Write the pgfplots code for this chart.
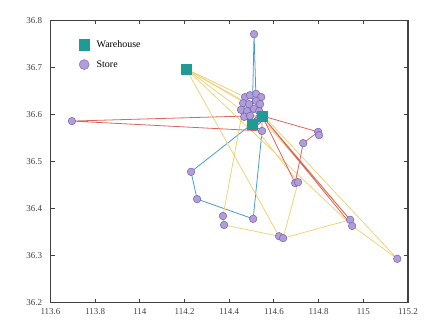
\documentclass[border=0pt]{standalone}
\usepackage{fontspec}
\setmainfont{Liberation Serif}
\usepackage{pgfplots}
\pgfplotsset{compat=1.18}

\definecolor{whcol}{HTML}{1E9C94}
\definecolor{stfill}{HTML}{B39DD6}
\definecolor{stedge}{HTML}{6E62B8}
\definecolor{rblue}{HTML}{4A9CC8}
\definecolor{ryel}{HTML}{F0D27A}
\definecolor{rred}{HTML}{D9665C}

\begin{document}
\begin{tikzpicture}
\path[use as bounding box] (-50.5bp,-25.5bp) rectangle (390.5bp,302.5bp);
\begin{axis}[
    at={(0,0)}, anchor=south west,
    width=357.5bp, height=282bp,
    scale only axis,
    xmin=113.6, xmax=115.2,
    ymin=36.2, ymax=36.8,
    xtick={113.6,113.8,...,115.2},
    ytick={36.2,36.3,...,36.8},
    xticklabel style={/pgf/number format/fixed, /pgf/number format/precision=1, yshift=-3pt},
    yticklabel style={/pgf/number format/fixed, /pgf/number format/precision=1, xshift=-5pt},
    /pgf/number format/assume math mode=true,
    ticklabel style={font=\fontsize{9}{10}\selectfont, text=black!75},
    tick align=inside, tick pos=both,
    major tick length=4bp,
    axis line style={black!75, line width=1.2pt},
    tick style={black!75, line width=0.9pt},
    legend style={draw=none, fill=none, at={(0.07,0.945)}, anchor=north west,
        font=\fontsize{10}{12}\selectfont, row sep=8pt,
        nodes={inner xsep=7pt}},
    legend cell align=left,
]
\addlegendimage{only marks, mark=square*, mark size=5.5pt, mark options={fill=whcol, draw=whcol}}
\addlegendentry{Warehouse}
\addlegendimage{only marks, mark=*, mark size=5pt, mark options={fill=stfill, draw=stedge}}
\addlegendentry{Store}

% blue routes
\addplot[rblue, line width=0.8pt, forget plot] coordinates {
 (114.502,36.580) (114.511,36.771) (114.520,36.629) (114.534,36.607) (114.502,36.580)};
\addplot[rblue, line width=0.8pt, forget plot] coordinates {
 (114.502,36.580) (114.229,36.478) (114.256,36.420) (114.507,36.378) (114.547,36.565) (114.502,36.580)};
\addplot[rblue, line width=0.8pt, forget plot] coordinates {
 (114.502,36.580) (114.467,36.595) (114.453,36.610) (114.462,36.624) (114.502,36.580)};

% yellow routes
\addplot[ryel, line width=0.8pt, forget plot] coordinates {
 (114.207,36.697) (114.471,36.637) (114.372,36.384) (114.377,36.365) (114.623,36.341) (114.207,36.697)};
\addplot[ryel, line width=0.8pt, forget plot] coordinates {
 (114.207,36.697) (114.950,36.363) (115.152,36.293) (114.534,36.607) (114.207,36.697)};
\addplot[ryel, line width=0.8pt, forget plot] coordinates {
 (114.207,36.697) (114.453,36.610) (114.708,36.456) (114.641,36.337) (114.941,36.376) (114.489,36.622) (114.207,36.697)};

% red routes
\addplot[rred, line width=0.8pt, forget plot] coordinates {
 (114.547,36.597) (114.493,36.597) (113.696,36.586) (114.547,36.565) (114.547,36.597)};
\addplot[rred, line width=0.8pt, forget plot] coordinates {
 (114.547,36.597) (114.798,36.563) (114.731,36.539) (114.695,36.454) (114.547,36.597)};
\addplot[rred, line width=0.8pt, forget plot] coordinates {
 (114.547,36.597) (114.941,36.376) (114.950,36.363) (114.547,36.597)};
\addplot[rred, line width=0.8pt, forget plot] coordinates {
 (114.547,36.597) (114.543,36.637) (114.538,36.622) (114.511,36.612) (114.547,36.597)};

% stores
\addplot[only marks, mark=*, mark size=3.8pt, mark options={fill=stfill, draw=stedge, line width=0.5pt}, forget plot] coordinates {
 (114.511,36.771) (113.696,36.586) (114.229,36.478) (114.256,36.420) (114.507,36.378)
 (114.547,36.565) (114.372,36.384) (114.377,36.365) (114.623,36.341) (114.641,36.337)
 (114.695,36.454) (114.708,36.456) (114.798,36.563) (114.802,36.556) (114.731,36.539)
 (114.941,36.376) (114.950,36.363) (115.152,36.293)
 (114.471,36.637) (114.493,36.641) (114.520,36.644) (114.543,36.637) (114.462,36.624)
 (114.489,36.622) (114.520,36.629) (114.538,36.622) (114.453,36.610) (114.480,36.607)
 (114.511,36.612) (114.534,36.607) (114.467,36.595) (114.493,36.597) (114.525,36.586)};

% warehouses
\addplot[only marks, mark=square*, mark size=5pt, mark options={fill=whcol, draw=whcol}, forget plot] coordinates {
 (114.207,36.697) (114.502,36.580) (114.547,36.597)};
\end{axis}
\end{tikzpicture}
\end{document}
